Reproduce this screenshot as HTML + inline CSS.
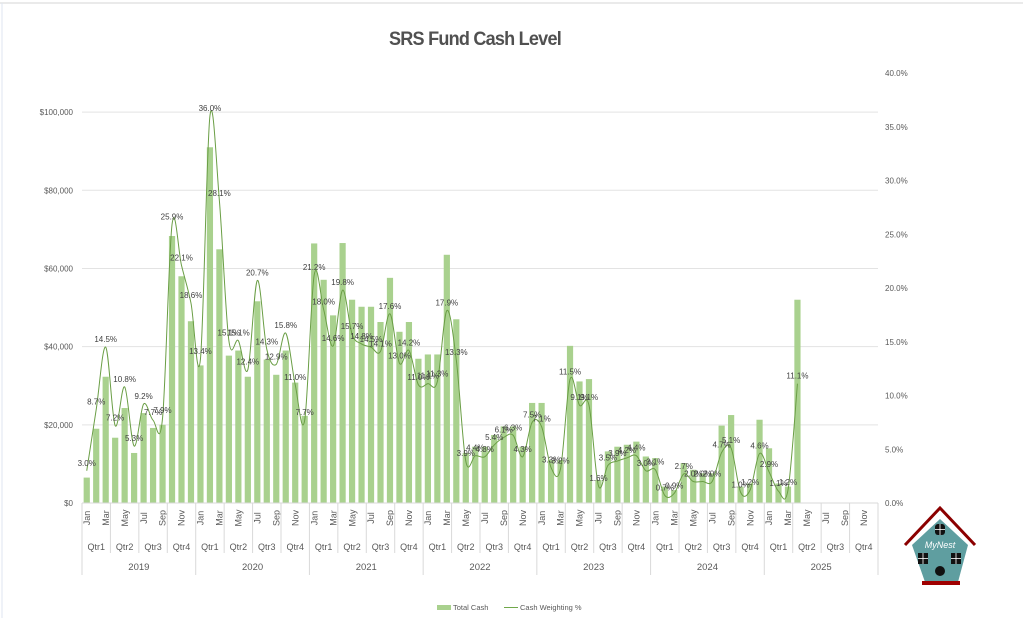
<!DOCTYPE html>
<html><head><meta charset="utf-8"><style>
body{margin:0;background:#fff;width:1023px;height:618px;overflow:hidden;font-family:"Liberation Sans",sans-serif}
svg text{font-family:"Liberation Sans",sans-serif}
</style></head><body>
<svg id="chart" width="1023" height="618" viewBox="0 0 1023 618" xmlns="http://www.w3.org/2000/svg">
<rect x="0" y="0" width="1023" height="618" fill="#fff"/>
<line x1="0" y1="3" x2="1023" y2="3" stroke="#d4d4d4" stroke-width="1"/>
<line x1="2" y1="3" x2="2" y2="618" stroke="#dfe6f0" stroke-width="1"/>
<text x="475" y="45" text-anchor="middle" font-size="19" font-weight="bold" fill="#505050" letter-spacing="-0.8" transform="translate(475 0) scale(0.95 1) translate(-475 0)">SRS Fund Cash Level</text>
<g id="grid"></g><g id="bars"></g><g id="line"></g><g id="labels"></g><g id="axes"></g>
<g>
<rect x="437" y="605" width="14" height="5" fill="#a9d18e"/>
<text x="453" y="610" font-size="7.5" fill="#595959">Total Cash</text>
<line x1="504" y1="607.5" x2="518" y2="607.5" stroke="#70a84a" stroke-width="1"/>
<text x="520" y="610" font-size="7.5" fill="#595959">Cash Weighting %</text>
</g>
<g>
<polygon points="912,545 968,545 958,582 925,582" fill="#5f9ea0"/>
<polygon points="940,519 912,545 968,545" fill="#5f9ea0"/>
<polyline points="905,545 940,508 975,545" fill="none" stroke="#8b0000" stroke-width="3"/>
<rect x="922" y="581" width="38" height="4" fill="#a00000"/>
<rect x="935" y="524" width="10" height="11" rx="3" fill="#111"/>
<line x1="940" y1="524" x2="940" y2="535" stroke="#fff" stroke-width="0.8"/>
<line x1="935" y1="529.5" x2="945" y2="529.5" stroke="#fff" stroke-width="0.8"/>
<rect x="918" y="553" width="10" height="11" fill="#111"/>
<line x1="923" y1="553" x2="923" y2="564" stroke="#fff" stroke-width="0.8"/>
<line x1="918" y1="558.5" x2="928" y2="558.5" stroke="#fff" stroke-width="0.8"/>
<rect x="951" y="553" width="10" height="11" fill="#111"/>
<line x1="956" y1="553" x2="956" y2="564" stroke="#fff" stroke-width="0.8"/>
<line x1="951" y1="558.5" x2="961" y2="558.5" stroke="#fff" stroke-width="0.8"/>
<circle cx="940" cy="571" r="5" fill="#111"/>
<text x="940" y="548" text-anchor="middle" font-size="9" font-style="italic" fill="#fff">MyNest</text>
</g>
</svg>
<script>
const months=["Jan","Feb","Mar","Apr","May","Jun","Jul","Aug","Sep","Oct","Nov","Dec"];
const years=["2019","2020","2021","2022","2023","2024","2025"];
const quarters=["Qtr1","Qtr2","Qtr3","Qtr4"];
const totalCash=[6.5,19,32.3,16.7,24.3,12.8,23,19.2,20,68.3,58,46.5,
35.2,91,64.9,37.7,39,32.3,51.6,36.7,32.8,39,30.8,22.3,
66.4,57.1,48,66.5,52,50.2,50.2,46.3,57.6,43.8,46.3,36.9,
38,38,63.5,47,12.8,14.4,14.4,17.4,19.6,19.6,14.4,25.6,
25.6,11,11,40.2,31.1,31.7,5.9,13.2,14.4,14.9,15.7,11.9,
11.5,4.2,3.3,10.2,8.5,7.6,7.6,19.8,22.5,4.2,5,21.3,
14,5,4.2,52];
const cashPct=[3.0,8.7,14.5,7.2,10.8,5.3,9.2,7.7,7.9,25.9,22.1,18.6,
13.4,36.0,28.1,15.1,15.1,12.4,20.7,14.3,12.9,15.8,11.0,7.7,
21.2,18.0,14.6,19.8,15.7,14.8,14.5,14.1,17.6,13.0,14.2,11.0,
11.1,11.3,17.9,13.3,3.9,4.4,4.3,5.4,6.1,6.3,4.3,7.5,
7.1,3.3,3.2,11.5,9.1,9.1,1.6,3.5,3.9,4.2,4.4,3.0,
3.1,0.7,0.9,2.7,2.0,2.0,2.0,4.7,5.1,1.0,1.2,4.6,
2.9,1.1,1.2,11.1];
const leftTicks=[0,20,40,60,80,100];
const rightTicks=[0,5,10,15,20,25,30,35,40];
const NS="http://www.w3.org/2000/svg";
const X0=82,X1=878,Y0=503,YT=73,N=84,slot=(X1-X0)/N;
const xs=i=>X0+slot*(i+0.5);
const yL=v=>Y0-(v/110)*(Y0-YT);
const yR=v=>Y0-(v/40)*(Y0-YT);
function mk(tag,attrs,parent,txt){const e=document.createElementNS(NS,tag);for(const k in attrs)e.setAttribute(k,attrs[k]);if(txt!==undefined)e.textContent=txt;document.getElementById(parent).appendChild(e);return e;}
leftTicks.forEach(t=>{const y=yL(t);
 if(t>0){const g=mk('line',{x1:X0,x2:X1,y1:y,y2:y,stroke:'#e3e3e3','stroke-width':1},'grid');
 
 }
 const l=mk('text',{x:73,y:y+3,'text-anchor':'end','font-size':8,fill:'#595959'},'axes','$'+(t*1000).toLocaleString('en-US'));
 
 
});
rightTicks.forEach(t=>{const y=yR(t);
 const l=mk('text',{x:885,y:y+3,'font-size':8,fill:'#595959'},'axes',t.toFixed(1)+'%');
 
 
});
const bw=6.2;
totalCash.forEach((v,i)=>{const y=yL(v);
 const b=mk('rect',{x:xs(i)-bw/2,y:y,width:bw,height:Y0-y,fill:'#a9d18e'},'bars');
 
 
});
const pts=cashPct.map((v,i)=>[xs(i),yR(v)]);
let d='M'+pts[0][0]+','+pts[0][1];
for(let i=0;i<pts.length-1;i++){const p0=pts[Math.max(0,i-1)],p1=pts[i],p2=pts[i+1],p3=pts[Math.min(pts.length-1,i+2)];const s=6;
 d+=` C${p1[0]+(p2[0]-p0[0])/s},${p1[1]+(p2[1]-p0[1])/s} ${p2[0]-(p3[0]-p1[0])/s},${p2[1]-(p3[1]-p1[1])/s} ${p2[0]},${p2[1]}`;}
const ln=mk('path',{d:d,fill:'none',stroke:'#6a9e45','stroke-width':1},'line');


cashPct.forEach((v,i)=>{
 const t=mk('text',{x:xs(i),y:yR(v)-5,'text-anchor':'middle','font-size':8,fill:'#404040'},'labels',v.toFixed(1)+'%');
 
 
});
mk('line',{x1:X0,x2:X1,y1:Y0,y2:Y0,stroke:'#d9d9d9'},'axes');
for(let i=0;i<N;i++){
 if(i%2===0){const x=xs(i)+3.2;
  const t=mk('text',{x:x,y:518,'text-anchor':'middle','font-size':9,fill:'#595959',transform:`rotate(-90 ${x} 518)`},'axes',months[i%12]);
  
  }
}
for(let q=0;q<=28;q++){const x=X0+q*3*slot;const yb=(q%4===0)?575:553;
 mk('line',{x1:x,x2:x,y1:Y0,y2:yb,stroke:'#d9d9d9'},'axes');
 if(q<28){const t=mk('text',{x:x+1.5*slot,y:550,'text-anchor':'middle','font-size':9,fill:'#595959'},'axes',quarters[q%4]);
  
  }
}
years.forEach((yr,k)=>{const t=mk('text',{x:X0+(k*12+6)*slot,y:570,'text-anchor':'middle','font-size':9.5,fill:'#595959'},'axes',yr);
 
 });
</script>
</body></html>
